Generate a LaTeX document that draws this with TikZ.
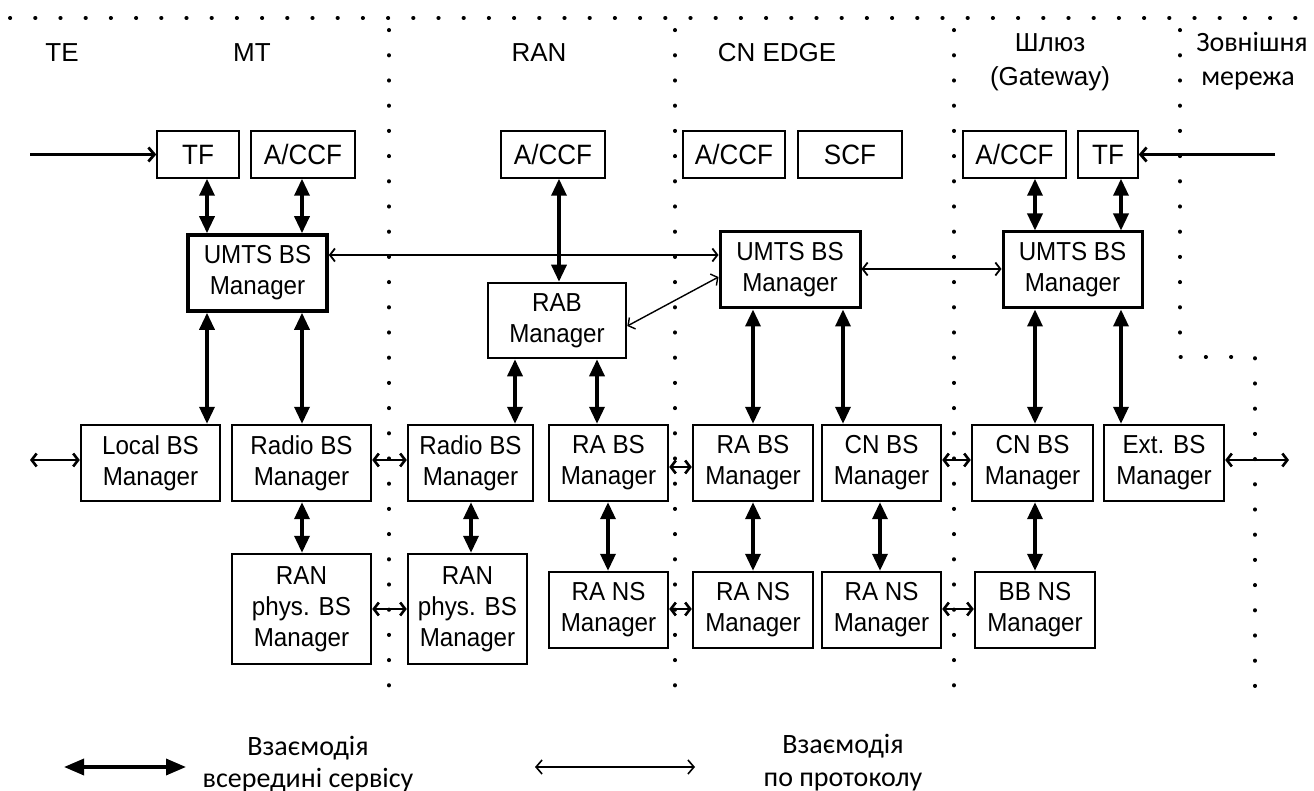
\documentclass[tikz,border=0pt]{standalone}
\usepackage{fontspec}
\setmainfont{Liberation Sans}
\newfontfamily\boxfont{Liberation Sans}[FakeStretch=0.93]
\newfontfamily\carl{Carlito}
\usetikzlibrary{arrows.meta}
\begin{document}
\begin{tikzpicture}[x=0.5pt,y=-0.5pt,
  bx/.style={draw, line width=1.2pt, align=center, inner sep=0pt, font=\boxfont\fontsize{13}{15.5}\selectfont},
  topbx/.style={bx, line width=0.75pt, minimum height=23.5pt, font=\boxfont\fontsize{14}{16}\selectfont},
  umts/.style={bx, line width=1.5pt, minimum height=38pt, minimum width=69.5pt},
  mid/.style={bx, minimum height=38pt},
  hdr/.style={anchor=base, inner sep=0pt, font=\fontsize{13}{15}\selectfont},
  crl/.style={anchor=base, inner sep=0pt, font=\carl\fontsize{14}{16}\selectfont},
  svc/.style={line width=1.7pt, arrows={Triangle[length=8.5pt,width=7.5pt]-Triangle[length=8.5pt,width=7.5pt]}},
  svcL/.style={line width=1.7pt, arrows={Triangle[length=10pt,width=8pt]-Triangle[length=10pt,width=8pt]}},
  proto/.style={line width=1.3pt, arrows={Straight Barb[length=2.5pt,width=6.5pt]-Straight Barb[length=2.5pt,width=6.5pt]}},
  protoT/.style={line width=0.9pt, arrows={Straight Barb[length=2.5pt,width=6.5pt]-Straight Barb[length=2.5pt,width=6.5pt]}},
  protoD/.style={line width=0.7pt, arrows={Straight Barb[length=2.5pt,width=6.5pt]-Straight Barb[length=2.5pt,width=6.5pt]}},
  protoL/.style={line width=0.8pt, arrows={Straight Barb[length=3pt,width=7pt]-Straight Barb[length=3pt,width=7pt]}},
  inarr/.style={line width=1.4pt, arrows={-Straight Barb[length=3pt,width=7pt]}},
  dots/.style={line width=2pt, dash pattern=on 0.1pt off 12.5pt, line cap=round},
]
\fill[white] (0,0) rectangle (1314,791);
\useasboundingbox (0,0) rectangle (1314,791);

% dotted domain borders
\draw[dots] (10,18) -- (1310,18);
\draw[dots] (389,30) -- (389,700);
\draw[dots] (675,30) -- (675,692);
\draw[dots] (954,30) -- (954,692);
\draw[dots] (1180,30) -- (1180,357) -- (1255,357) -- (1255,692);

% headers
\node[hdr] (tTE) at (62,62) {TE};
\node[hdr] (tMT) at (252,62) {MT};
\node[hdr] (tRAN) at (539,62) {RAN};
\node[hdr] (tCN) at (777,62) {CN EDGE};
\node[hdr] (tGW1) at (1050,52) {Шлюз};
\node[hdr] (tGW2) at (1050,86) {(Gateway)};
\node[crl] (tEx1) at (1252,52) {Зовнішня};
\node[crl] (tEx2) at (1248,86) {мережа};

% top boxes
\node[topbx, minimum width=41pt] (tfM) at (198,154.5) {TF};
\node[topbx, minimum width=52pt] (accM) at (303,154.5) {A/CCF};
\node[topbx, minimum width=52pt] (accR) at (553,154.5) {A/CCF};
\node[topbx, minimum width=51pt] (accC) at (734,154.5) {A/CCF};
\node[topbx, minimum width=52pt] (scf) at (850,154.5) {SCF};
\node[topbx, minimum width=51.5pt] (accG) at (1014.5,154.5) {A/CCF};
\node[topbx, minimum width=30pt] (tfG) at (1108,154.5) {TF};

% UMTS / RAB managers
\node[umts, line width=1.8pt] (umtsM) at (257.5,273) {UMTS BS\\Manager};
\node[umts, minimum width=70pt] (umtsC) at (790,270) {UMTS BS\\Manager};
\node[umts] (umtsG) at (1072.5,270) {UMTS BS\\Manager};
\node[bx, line width=1.3pt, minimum width=69pt, minimum height=37.5pt] (rab) at (557,320.5) {RAB\\Manager};

% middle row
\node[mid, minimum width=69.5pt] (local) at (150.5,463) {Local BS\\Manager};
\node[mid, minimum width=69.5pt] (radioM) at (301.5,463) {Radio BS\\Manager};
\node[mid, minimum width=62.5pt] (radioR) at (470.5,463) {Radio BS\\Manager};
\node[mid, minimum width=59.5pt] (rabsR) at (608.5,463) {RA BS\\Manager};
\node[mid, minimum width=60pt] (rabsC) at (753,463) {RA BS\\Manager};
\node[mid, minimum width=59.5pt] (cnbsC) at (881.5,463) {CN BS\\Manager};
\node[mid, minimum width=60.5pt] (cnbsG) at (1032.5,463) {CN BS\\Manager};
\node[mid, minimum width=60pt] (ext) at (1164,463) {Ext. BS\\Manager};

% bottom row
\node[bx, minimum width=69.5pt, minimum height=55pt] (physM) at (301.5,609) {RAN\\phys. BS\\Manager};
\node[bx, minimum width=59.5pt, minimum height=55pt] (physR) at (467.5,609) {RAN\\phys. BS\\Manager};
\node[mid, minimum width=59.5pt] (ransR) at (608.5,610) {RA NS\\Manager};
\node[mid, minimum width=60pt] (ransC) at (753,610) {RA NS\\Manager};
\node[mid, minimum width=59.5pt] (ransC2) at (881.5,610) {RA NS\\Manager};
\node[mid, minimum width=60pt] (bbns) at (1035,610) {BB NS\\Manager};

% helper coordinates
\coordinate (xa) at (207,0);
\coordinate (xb) at (302,0);
\coordinate (xc) at (559,0);
\coordinate (xd) at (515,0);
\coordinate (xe) at (597,0);
\coordinate (xf) at (471,0);
\coordinate (xg) at (608,0);
\coordinate (xh) at (753,0);
\coordinate (xi) at (843,0);
\coordinate (xj) at (880,0);
\coordinate (xk) at (1035,0);
\coordinate (xl) at (1121,0);
\coordinate (y154) at (0,154.5);
\coordinate (y255) at (0,255);
\coordinate (y269) at (0,269);
\coordinate (y460) at (0,460);
\coordinate (y467) at (0,467);
\coordinate (y609) at (0,609);
\coordinate (inL) at (30,154.5);
\coordinate (inR) at (1275,154.5);
\coordinate (outL) at (30,460);
\coordinate (outR) at (1289,460);

% service (intra) arrows
\draw[svc] (tfM.south -| xa) -- (umtsM.north -| xa);
\draw[svc] (umtsM.south -| xa) -- (local.north -| xa);
\draw[svc] (accM.south -| xb) -- (umtsM.north -| xb);
\draw[svc] (umtsM.south -| xb) -- (radioM.north -| xb);
\draw[svc] (radioM.south -| xb) -- (physM.north -| xb);
\draw[svc] (accR.south -| xc) -- (rab.north -| xc);
\draw[svc] (rab.south -| xd) -- (radioR.north -| xd);
\draw[svc] (rab.south -| xe) -- (rabsR.north -| xe);
\draw[svc] (radioR.south -| xf) -- (physR.north -| xf);
\draw[svc] (rabsR.south -| xg) -- (ransR.north -| xg);
\draw[svc] (umtsC.south -| xh) -- (rabsC.north -| xh);
\draw[svc] (rabsC.south -| xh) -- (ransC.north -| xh);
\draw[svc] (umtsC.south -| xi) -- (cnbsC.north -| xi);
\draw[svc] (cnbsC.south -| xj) -- (ransC2.north -| xj);
\draw[svc] (accG.south -| xk) -- (umtsG.north -| xk);
\draw[svc] (umtsG.south -| xk) -- (cnbsG.north -| xk);
\draw[svc] (cnbsG.south -| xk) -- (bbns.north -| xk);
\draw[svc] (tfG.south -| xl) -- (umtsG.north -| xl);
\draw[svc] (umtsG.south -| xl) -- (ext.north -| xl);

% protocol arrows
\draw[inarr] (inL) -- (tfM.west |- y154);
\draw[inarr] (inR) -- (tfG.east |- y154);
\draw[protoT] (umtsM.east |- y255) -- (umtsC.west |- y255);
\draw[protoT] (umtsC.east |- y269) -- (umtsG.west |- y269);
\draw[protoD] ([yshift=-3.5pt]umtsC.west) -- ([yshift=-2.75pt]rab.east);
\draw[proto] (outL) -- (local.west |- y460);
\draw[proto] (radioM.east |- y460) -- (radioR.west |- y460);
\draw[proto] (rabsR.east |- y467) -- (rabsC.west |- y467);
\draw[proto] (cnbsC.east |- y460) -- (cnbsG.west |- y460);
\draw[proto] (ext.east |- y460) -- (outR);
\draw[proto] (physM.east |- y609) -- (physR.west |- y609);
\draw[proto] (ransR.east |- y609) -- (ransC.west |- y609);
\draw[proto] (ransC2.east |- y609) -- (bbns.west |- y609);

% legend
\coordinate (lg1a) at (64,767);
\coordinate (lg1b) at (186,767);
\coordinate (lg2a) at (535,767);
\coordinate (lg2b) at (695,767);
\draw[svcL] (lg1a) -- (lg1b);
\draw[protoL] (lg2a) -- (lg2b);
\node[crl] (lgA1) at (308,755) {Взаємодія};
\node[crl] (lgA2) at (308,787) {всередині сервісу};
\node[crl] (lgB1) at (843,754) {Взаємодія};
\node[crl] (lgB2) at (843,786) {по протоколу};
\end{tikzpicture}
\end{document}
